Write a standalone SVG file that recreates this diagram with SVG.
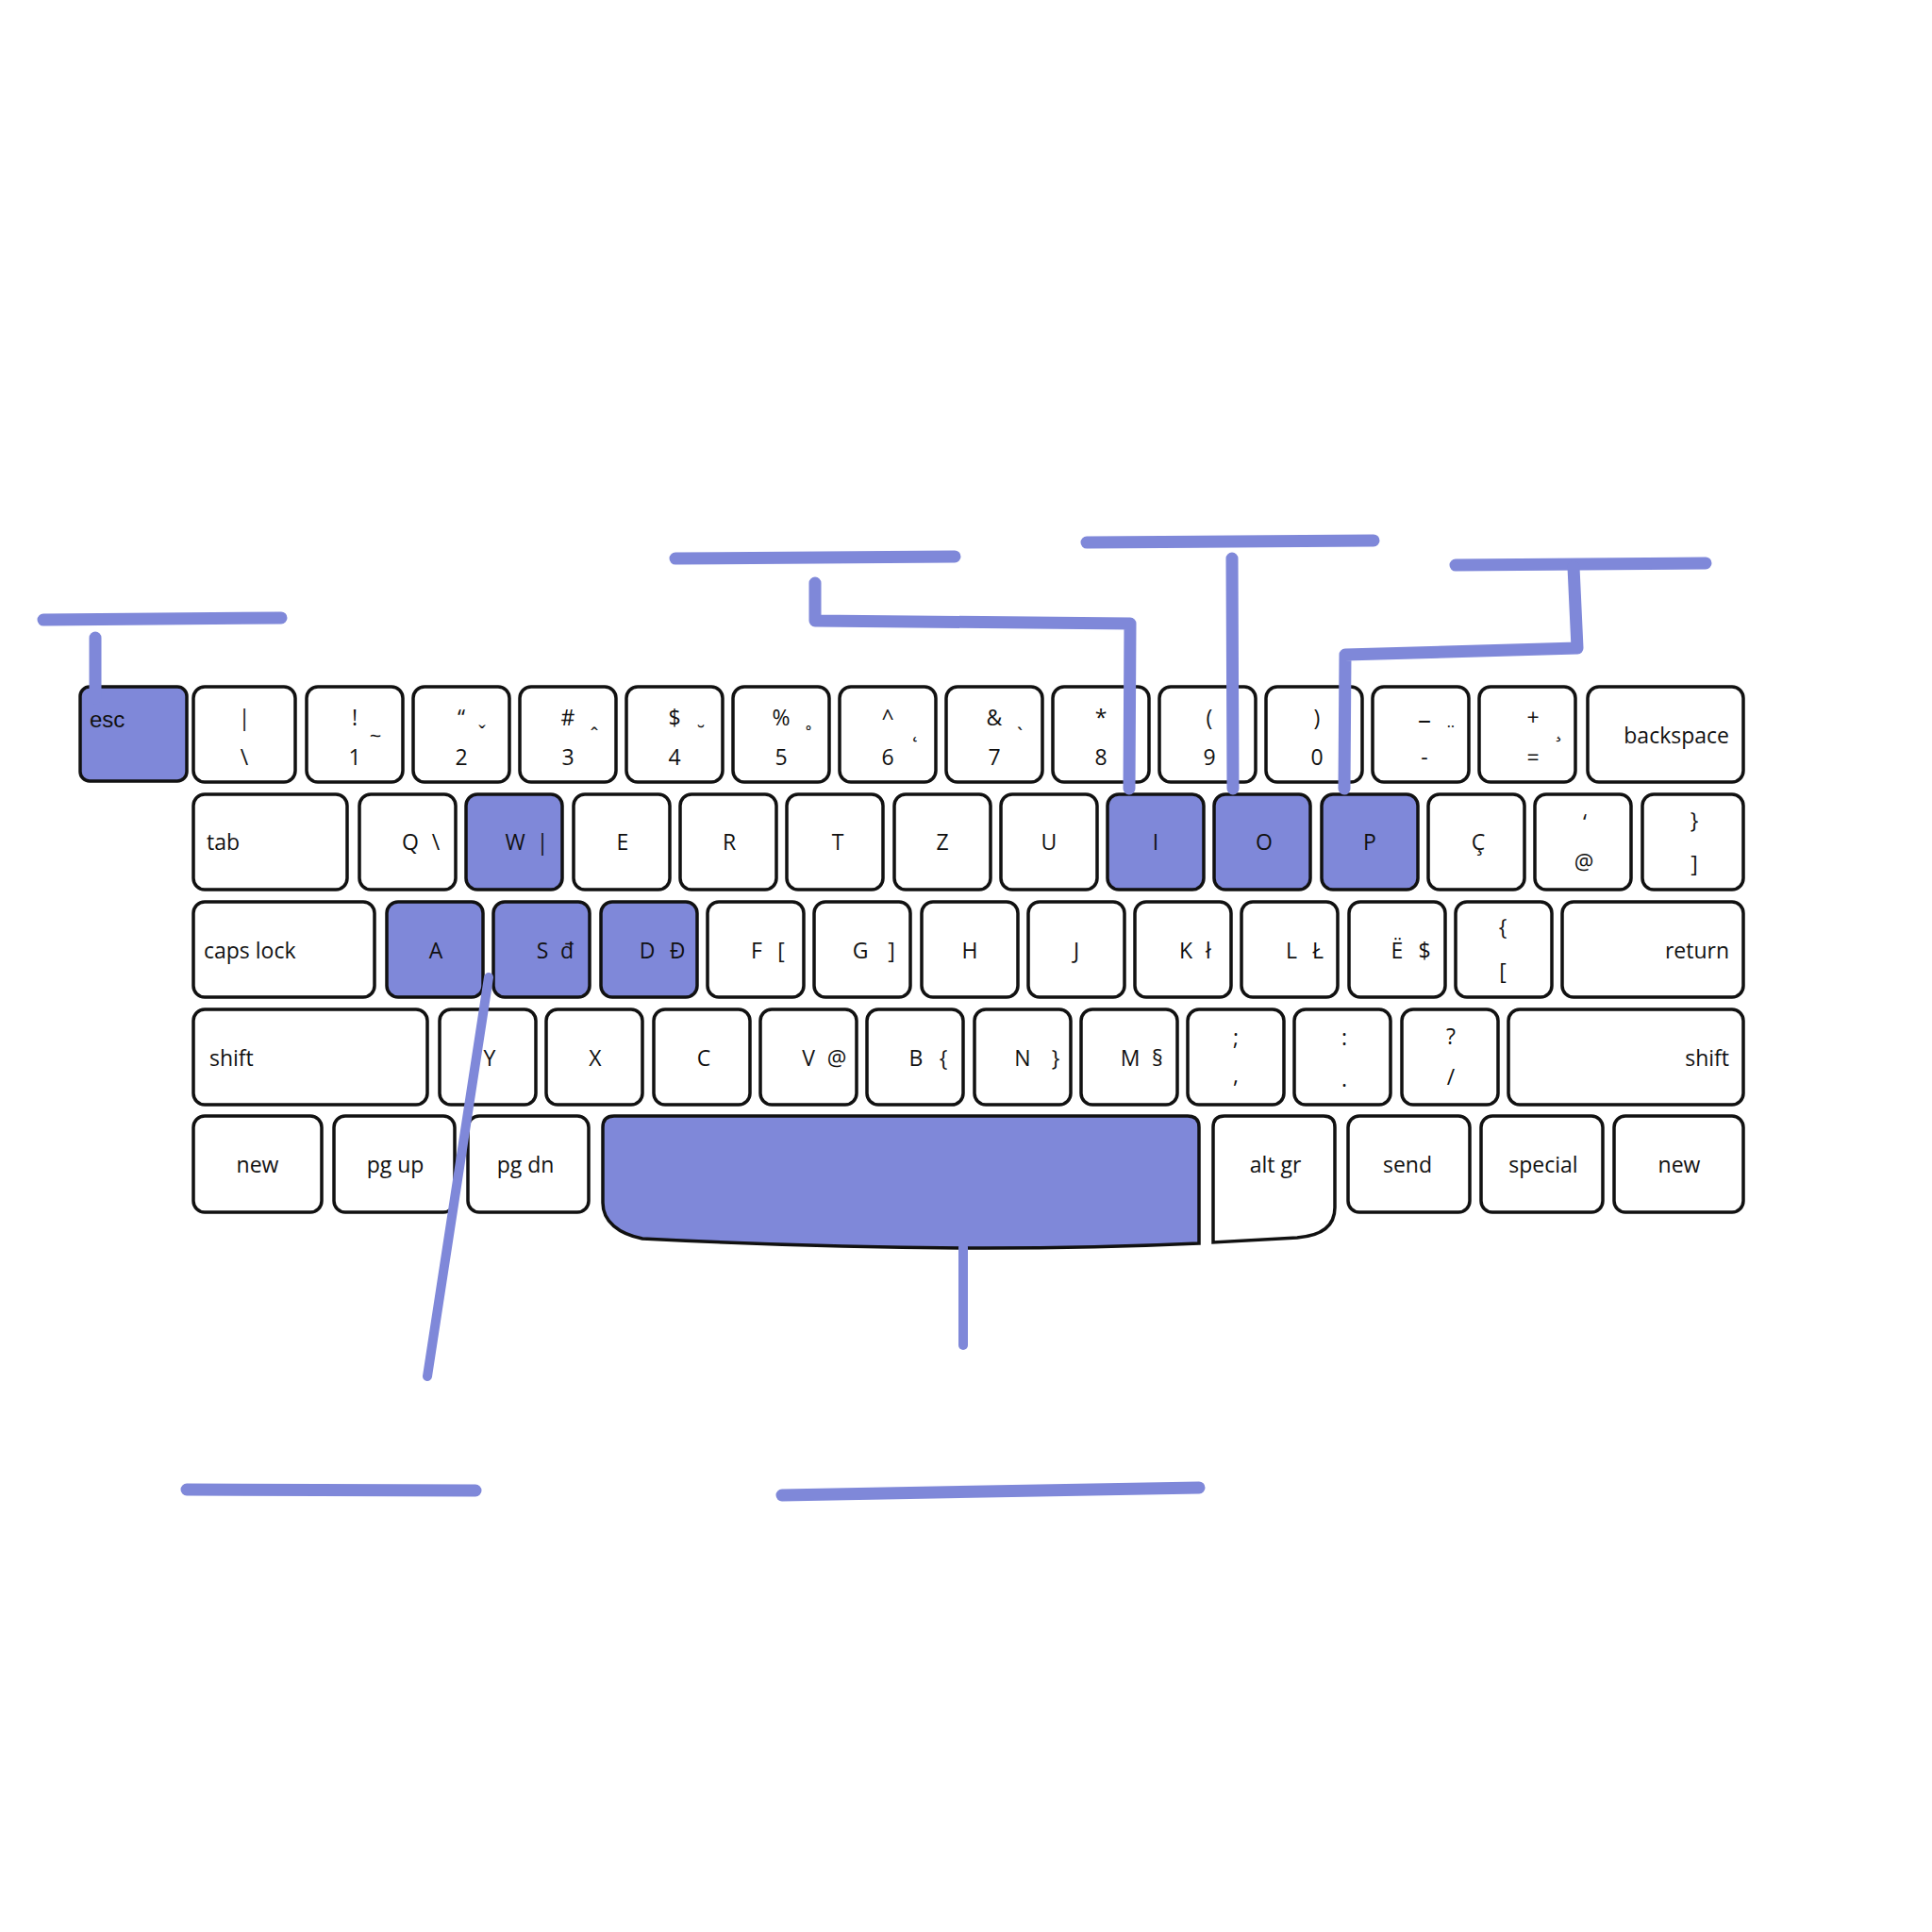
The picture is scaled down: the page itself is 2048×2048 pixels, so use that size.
<svg xmlns="http://www.w3.org/2000/svg" width="2048" height="2048" viewBox="0 0 2048 2048">
<style>
.k{fill:#ffffff;stroke:#111111;stroke-width:3.5}
.kf{fill:#7f88d9;stroke:#111111;stroke-width:3.5}
text{font-family:"Open Sans","Noto Sans","DejaVu Sans",sans-serif;font-size:23px;fill:#111111}
.m{text-anchor:middle}
.e{text-anchor:end}
.s{font-size:22px}
.esc{font-family:"Liberation Sans",Arial,sans-serif;font-size:24px}
.c{fill:none;stroke:#7f88d9;stroke-width:13;stroke-linecap:round;stroke-linejoin:round}
.ct{fill:none;stroke:#7f88d9;stroke-width:10;stroke-linecap:round}
</style>
<rect width="2048" height="2048" fill="#ffffff"/>
<g id="row1">
<g id="key-esc"><rect class="kf" x="85" y="728" width="113" height="100" rx="10"/><text class="esc" x="95" y="771">esc</text></g>
<g id="key-backslash"><rect class="k" x="205" y="728" width="108" height="101" rx="12"/><text class="m" x="259" y="769">|</text><text class="m" x="259" y="811">\</text></g>
<g id="key-1"><rect class="k" x="325" y="728" width="102" height="101" rx="12"/><text class="m" x="376" y="769">!</text><text class="m" x="376" y="811">1</text><text class="m s" x="398" y="788">~</text></g>
<g id="key-2"><rect class="k" x="438" y="728" width="102" height="101" rx="12"/><text class="m" x="489" y="769">“</text><text class="m" x="489" y="811">2</text><text class="m s" x="511" y="785">ˇ</text></g>
<g id="key-3"><rect class="k" x="551" y="728" width="102" height="101" rx="12"/><text class="m" x="602" y="769">#</text><text class="m" x="602" y="811">3</text><text class="m s" x="630" y="787">ˆ</text></g>
<g id="key-4"><rect class="k" x="664" y="728" width="102" height="101" rx="12"/><text class="m" x="715" y="769">$</text><text class="m" x="715" y="811">4</text><text class="m s" x="743" y="785">˘</text></g>
<g id="key-5"><rect class="k" x="777" y="728" width="102" height="101" rx="12"/><text class="m" x="828" y="769">%</text><text class="m" x="828" y="811">5</text><text class="m s" x="857" y="787">˚</text></g>
<g id="key-6"><rect class="k" x="890" y="728" width="102" height="101" rx="12"/><text class="m" x="941" y="769">^</text><text class="m" x="941" y="811">6</text><text class="m s" x="970" y="781">˛</text></g>
<g id="key-7"><rect class="k" x="1003" y="728" width="102" height="101" rx="12"/><text class="m" x="1054" y="769">&amp;</text><text class="m" x="1054" y="811">7</text><text class="m s" x="1081" y="787">`</text></g>
<g id="key-8"><rect class="k" x="1116" y="728" width="102" height="101" rx="12"/><text class="m" x="1167" y="769">*</text><text class="m" x="1167" y="811">8</text></g>
<g id="key-9"><rect class="k" x="1229" y="728" width="102" height="101" rx="12"/><text class="m" x="1282" y="769">(</text><text class="m" x="1282" y="811">9</text></g>
<g id="key-0"><rect class="k" x="1342" y="728" width="102" height="101" rx="12"/><text class="m" x="1396" y="769">)</text><text class="m" x="1396" y="811">0</text></g>
<g id="key-minus"><rect class="k" x="1455" y="728" width="102" height="101" rx="12"/><text class="m" x="1510" y="772" style="font-size:28px">–</text><text class="m" x="1510" y="811">-</text><text class="m s" x="1538" y="785">¨</text></g>
<g id="key-equals"><rect class="k" x="1568" y="728" width="102" height="101" rx="12"/><text class="m" x="1625" y="769">+</text><text class="m" x="1625" y="811">=</text><text class="m s" x="1652" y="781">¸</text></g>
<g id="key-backspace"><rect class="k" x="1683" y="728" width="165" height="101" rx="12"/><text class="e" x="1833" y="788">backspace</text></g>
</g>
<g id="row2">
<g id="key-tab"><rect class="k" x="205" y="842" width="163" height="101" rx="12"/><text x="219" y="901">tab</text></g>
<g id="key-q"><rect class="k" x="381" y="842" width="102" height="101" rx="12"/><text class="m" x="435" y="901">Q</text><text class="m" x="462" y="901">\</text></g>
<g id="key-w"><rect class="kf" x="494" y="842" width="102" height="101" rx="12"/><text class="m" x="546" y="901">W</text><text class="m" x="575" y="901">|</text></g>
<g id="key-e"><rect class="k" x="608" y="842" width="102" height="101" rx="12"/><text class="m" x="660" y="901">E</text></g>
<g id="key-r"><rect class="k" x="721" y="842" width="102" height="101" rx="12"/><text class="m" x="773" y="901">R</text></g>
<g id="key-t"><rect class="k" x="834" y="842" width="102" height="101" rx="12"/><text class="m" x="888" y="901">T</text></g>
<g id="key-z"><rect class="k" x="948" y="842" width="102" height="101" rx="12"/><text class="m" x="999" y="901">Z</text></g>
<g id="key-u"><rect class="k" x="1061" y="842" width="102" height="101" rx="12"/><text class="m" x="1112" y="901">U</text></g>
<g id="key-i"><rect class="kf" x="1174" y="842" width="102" height="101" rx="12"/><text class="m" x="1225" y="901">I</text></g>
<g id="key-o"><rect class="kf" x="1287" y="842" width="102" height="101" rx="12"/><text class="m" x="1340" y="901">O</text></g>
<g id="key-p"><rect class="kf" x="1401" y="842" width="102" height="101" rx="12"/><text class="m" x="1452" y="901">P</text></g>
<g id="key-ccedil"><rect class="k" x="1514" y="842" width="102" height="101" rx="12"/><text class="m" x="1567" y="901">Ç</text></g>
<g id="key-at"><rect class="k" x="1627" y="842" width="102" height="101" rx="12"/><text class="m" x="1680" y="880">‘</text><text class="m" x="1679" y="922">@</text></g>
<g id="key-brace-close"><rect class="k" x="1741" y="842" width="107" height="101" rx="12"/><text class="m" x="1796" y="878">}</text><text class="m" x="1796" y="924">]</text></g>
</g>
<g id="row3">
<g id="key-capslock"><rect class="k" x="205" y="956" width="192" height="101" rx="12"/><text x="216" y="1016">caps lock</text></g>
<g id="key-a"><rect class="kf" x="410" y="956" width="102" height="101" rx="12"/><text class="m" x="462" y="1016">A</text></g>
<g id="key-s"><rect class="kf" x="523" y="956" width="102" height="101" rx="12"/><text class="m" x="575" y="1016">S</text><text class="m" x="601" y="1016">đ</text></g>
<g id="key-d"><rect class="kf" x="637" y="956" width="102" height="101" rx="12"/><text class="m" x="686" y="1016">D</text><text class="m" x="718" y="1016">Đ</text></g>
<g id="key-f"><rect class="k" x="750" y="956" width="102" height="101" rx="12"/><text class="m" x="802" y="1016">F</text><text class="m" x="828" y="1016">[</text></g>
<g id="key-g"><rect class="k" x="863" y="956" width="102" height="101" rx="12"/><text class="m" x="912" y="1016">G</text><text class="m" x="945" y="1016">]</text></g>
<g id="key-h"><rect class="k" x="977" y="956" width="102" height="101" rx="12"/><text class="m" x="1028" y="1016">H</text></g>
<g id="key-j"><rect class="k" x="1090" y="956" width="102" height="101" rx="12"/><text class="m" x="1141" y="1016">J</text></g>
<g id="key-k"><rect class="k" x="1203" y="956" width="102" height="101" rx="12"/><text class="m" x="1257" y="1016">K</text><text class="m" x="1281" y="1016">ł</text></g>
<g id="key-l"><rect class="k" x="1316" y="956" width="102" height="101" rx="12"/><text class="m" x="1369" y="1016">L</text><text class="m" x="1397" y="1016">Ł</text></g>
<g id="key-e-uml"><rect class="k" x="1430" y="956" width="102" height="101" rx="12"/><text class="m" x="1481" y="1016">Ë</text><text class="m" x="1510" y="1016">$</text></g>
<g id="key-brace-open"><rect class="k" x="1543" y="956" width="102" height="101" rx="12"/><text class="m" x="1593" y="991">{</text><text class="m" x="1593" y="1038">[</text></g>
<g id="key-return"><rect class="k" x="1656" y="956" width="192" height="101" rx="12"/><text class="e" x="1833" y="1016">return</text></g>
</g>
<g id="row4">
<g id="key-shift-left"><rect class="k" x="205" y="1070" width="248" height="101" rx="12"/><text x="222" y="1130">shift</text></g>
<g id="key-y"><rect class="k" x="466" y="1070" width="102" height="101" rx="12"/><text class="m" x="519" y="1130">Y</text></g>
<g id="key-x"><rect class="k" x="579" y="1070" width="102" height="101" rx="12"/><text class="m" x="631" y="1130">X</text></g>
<g id="key-c"><rect class="k" x="693" y="1070" width="102" height="101" rx="12"/><text class="m" x="746" y="1130">C</text></g>
<g id="key-v"><rect class="k" x="806" y="1070" width="102" height="101" rx="12"/><text class="m" x="857" y="1130">V</text><text class="m" x="887" y="1130">@</text></g>
<g id="key-b"><rect class="k" x="919" y="1070" width="102" height="101" rx="12"/><text class="m" x="971" y="1130">B</text><text class="m" x="1000" y="1130">{</text></g>
<g id="key-n"><rect class="k" x="1033" y="1070" width="102" height="101" rx="12"/><text class="m" x="1084" y="1130">N</text><text class="m" x="1119" y="1130">}</text></g>
<g id="key-m"><rect class="k" x="1146" y="1070" width="102" height="101" rx="12"/><text class="m" x="1198" y="1130">M</text><text class="m" x="1227" y="1130">§</text></g>
<g id="key-semicolon"><rect class="k" x="1259" y="1070" width="102" height="101" rx="12"/><text class="m" x="1310" y="1108">;</text><text class="m" x="1310" y="1148">,</text></g>
<g id="key-colon"><rect class="k" x="1372" y="1070" width="102" height="101" rx="12"/><text class="m" x="1425" y="1108">:</text><text class="m" x="1425" y="1152">.</text></g>
<g id="key-question"><rect class="k" x="1486" y="1070" width="102" height="101" rx="12"/><text class="m" x="1538" y="1107">?</text><text class="m" x="1538" y="1150">/</text></g>
<g id="key-shift-right"><rect class="k" x="1599" y="1070" width="249" height="101" rx="12"/><text class="e" x="1833" y="1130">shift</text></g>
</g>
<g id="row5">
<g id="key-new-left"><rect class="k" x="205" y="1183" width="136" height="102" rx="12"/><text class="m" x="273" y="1243">new</text></g>
<g id="key-pgup"><rect class="k" x="354" y="1183" width="128" height="102" rx="12"/><text class="m" x="419" y="1243">pg up</text></g>
<g id="key-pgdn"><rect class="k" x="496" y="1183" width="128" height="102" rx="12"/><text class="m" x="557" y="1243">pg dn</text></g>
<g id="key-space"><path class="kf" d="M651,1183 H1259 Q1271,1183 1271,1195 V1318 Q1010,1330 681,1313 C656,1308 639,1295 639,1275 V1195 Q639,1183 651,1183 Z"/></g>
<g id="key-altgr"><path class="k" d="M1298,1183 H1403 Q1415,1183 1415,1195 V1280 C1415,1300 1400,1310 1375,1312 L1286,1317 V1195 Q1286,1183 1298,1183 Z"/><text class="m" x="1352" y="1243">alt gr</text></g>
<g id="key-send"><rect class="k" x="1429" y="1183" width="129" height="102" rx="12"/><text class="m" x="1492" y="1243">send</text></g>
<g id="key-special"><rect class="k" x="1570" y="1183" width="129" height="102" rx="12"/><text class="m" x="1636" y="1243">special</text></g>
<g id="key-new-right"><rect class="k" x="1711" y="1183" width="137" height="102" rx="12"/><text class="m" x="1780" y="1243">new</text></g>
</g>
<g id="connectors">
<path class="c" d="M46,657 L298,655"/>
<path class="c" d="M101,676 L101,740"/>
<path class="c" d="M716,592 L1012,590"/>
<path class="c" d="M864,618 L864,658 L1198,661 L1197,836"/>
<path class="c" d="M1152,575 L1456,573"/>
<path class="c" d="M1306,592 L1307,836"/>
<path class="c" d="M1543,599 L1808,597"/>
<path class="c" d="M1668,601 L1672,687 L1426,694 L1425,836"/>
<path class="ct" d="M518,1036 L453,1459"/>
<path class="ct" d="M1021,1322 L1021,1426"/>
<path class="c" d="M198,1579 L504,1580"/>
<path class="c" d="M829,1585 L1271,1577"/>
</g>
</svg>
